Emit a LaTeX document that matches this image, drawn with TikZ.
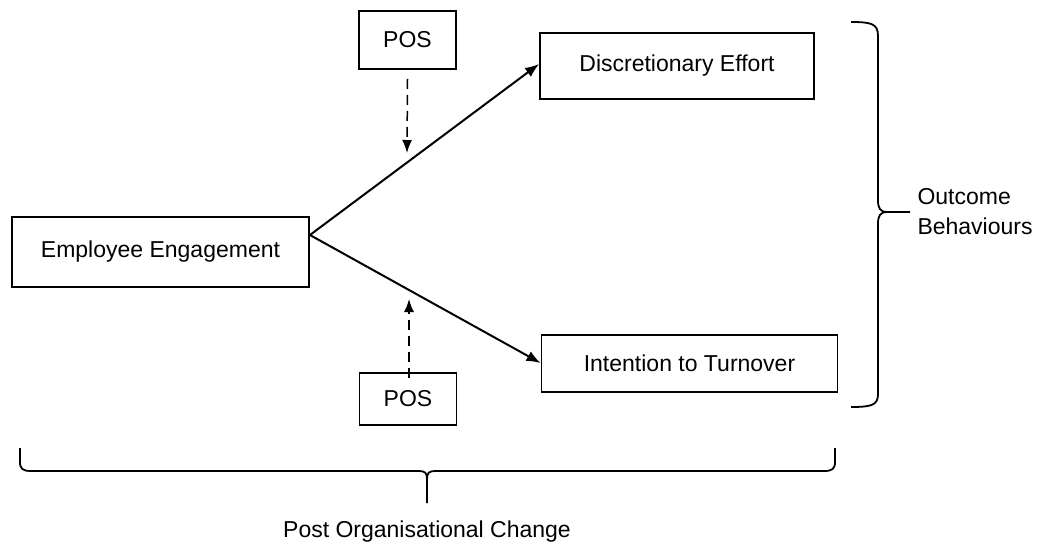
\documentclass[tikz,border=0pt]{standalone}
\usepackage{fontspec}
\setmainfont{Liberation Sans}
\usetikzlibrary{arrows.meta}
\begin{document}
\begin{tikzpicture}[x=1pt,y=-1pt,
  box/.style={draw, line width=1.9pt, minimum width=#1, inner sep=0pt},
  lbl/.style={font=\fontsize{23}{30}\selectfont},
  mainarrow/.style={line width=2pt, -{Latex[length=14pt,width=11pt]}},
  dasharrow/.style={line width=1.5pt, dash pattern=on 10pt off 6pt, -{Latex[length=13pt,width=10pt]}},
  bracepath/.style={line width=1.8pt}]
\useasboundingbox (0,0) rectangle (1039,549);
\fill[white] (0,0) rectangle (1039,549);
\node[box=97pt, minimum height=58pt, lbl] (posT) at (407.5,40) {POS};
\node[box=97pt, minimum height=52pt, lbl] (posB) at (408,399) {POS};
\node[box=297pt, minimum height=70pt, lbl] (ee) at (160.5,252) {Employee Engagement};
\node[box=274pt, minimum height=66pt, lbl] (de) at (677,66) {Discretionary Effort};
\node[box=296pt, minimum height=57pt, lbl] (it) at (689.5,363.5) {Intention to Turnover};
\coordinate (apex) at (ee.east |- 0,235);
\coordinate (deIn) at (de.west |- 0,64);
\coordinate (itIn) at (it.west |- 0,363);
\draw[mainarrow] (apex) -- (deIn);
\draw[mainarrow] (apex) -- (itIn);
\coordinate (mT) at (407,153);
\coordinate (mB) at (409,299);
\draw[dasharrow] ([yshift=-9pt]posT.south) -- (mT);
\draw[dasharrow] ([yshift=-6pt]posB.north -| mB) -- (mB);
% right brace
\coordinate (rbTip) at (910,212);
\draw[bracepath] (851,22) .. controls (872,22) and (878,24) .. (878,36) -- (878,200)
  .. controls (878,208) and (880,212) .. (887,212) -- (rbTip);
\draw[bracepath] (887,212) .. controls (880,212) and (878,216) .. (878,224) -- (878,394)
  .. controls (878,405) and (872,407) .. (851,407);
\node[lbl, anchor=west, align=left] (ob) at (914,212) {Outcome\\Behaviours};
% bottom brace
\coordinate (bbTip) at (427,503);
\draw[bracepath] (20,448) -- (20,462) .. controls (20,469) and (23,471) .. (31,471) -- (419,471)
  .. controls (425,471) and (427,473) .. (427,479) -- (bbTip);
\draw[bracepath] (427,479) .. controls (427,473) and (429,471) .. (435,471) -- (824,471)
  .. controls (832,471) and (835,469) .. (835,462) -- (835,448);
\node[lbl] (poc) at (427,532) {Post Organisational Change};
\end{tikzpicture}
\end{document}
